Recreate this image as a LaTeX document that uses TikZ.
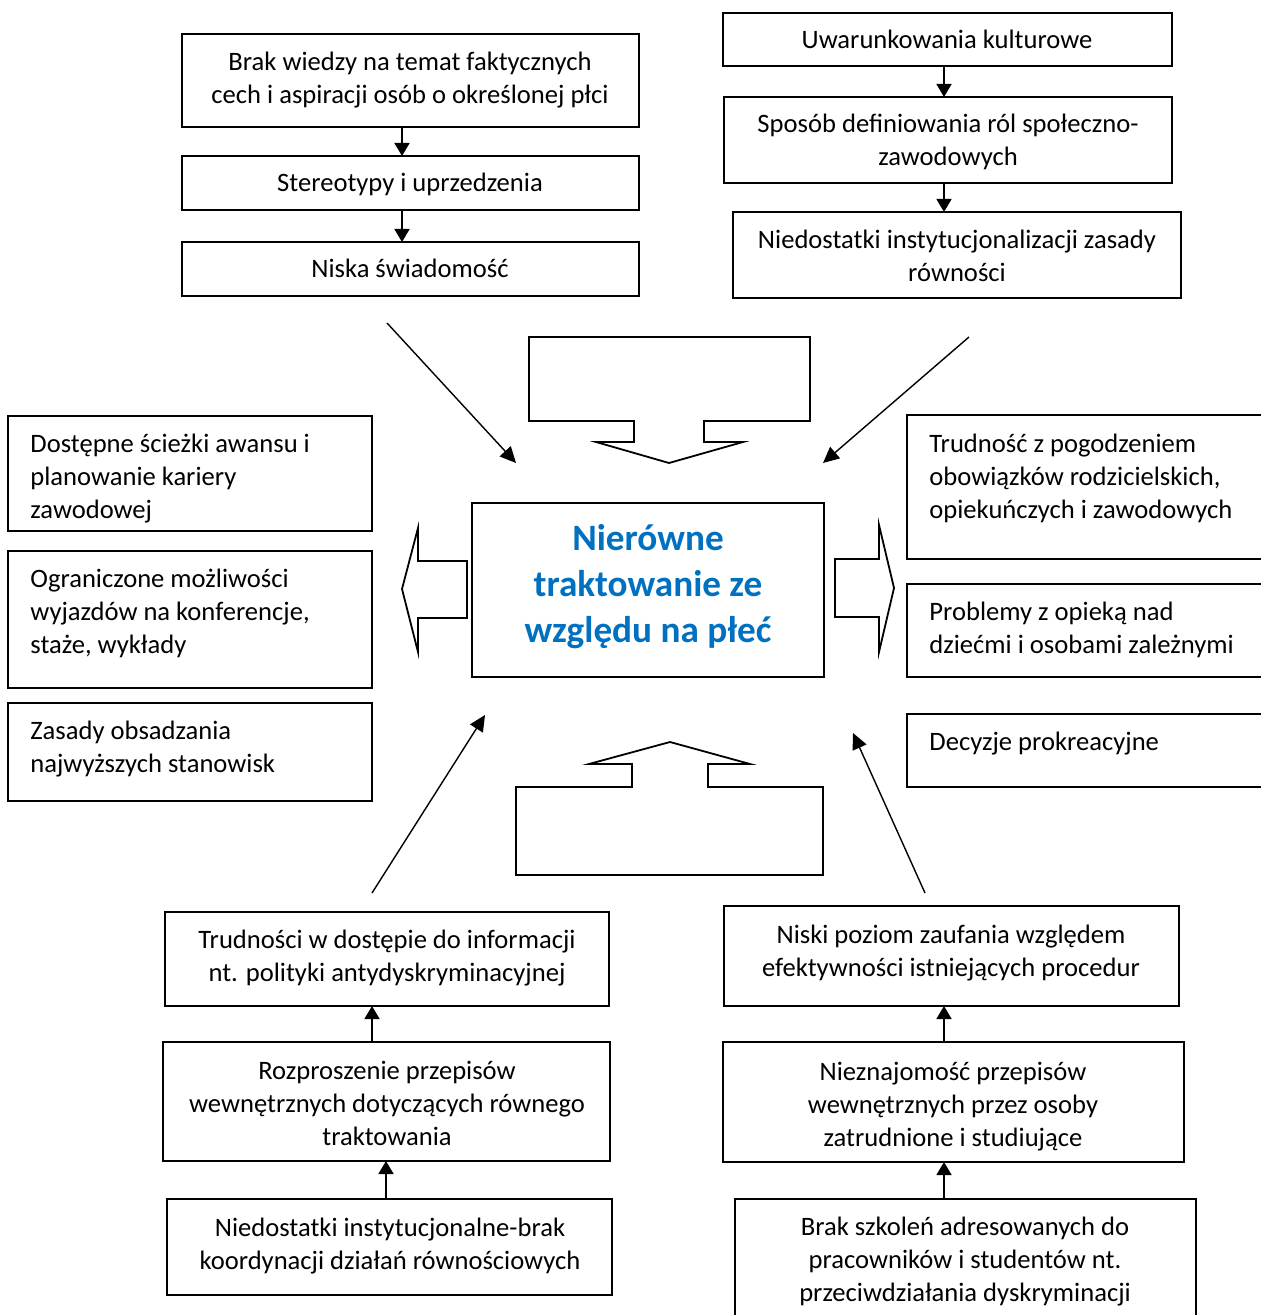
\documentclass[tikz,border=0pt]{standalone}
\usepackage{fontspec}
\setmainfont{Carlito}
\usetikzlibrary{arrows.meta,fit}
\definecolor{wordblue}{RGB}{0,112,192}
\newcommand\mystrut{\rule{0pt}{12.5pt}}
\newcommand\mybstrut{\rule{0pt}{18pt}}
\begin{document}
\begin{tikzpicture}[x=0.5pt,y=-0.5pt,
  box/.style={draw, line width=0.9pt, inner sep=0pt, outer sep=0pt},
  txt/.style={inner sep=0pt, font=\fontsize{13.3}{16.4}\selectfont, align=center, anchor=north},
  ltxt/.style={txt, align=left, anchor=north west},
  ctxt/.style={inner sep=0pt, font=\fontsize{18.6}{23}\selectfont\bfseries, text=wordblue, align=center, anchor=north},
  arr/.style={line width=0.8pt, -{Triangle[length=6.5pt,width=7.5pt]}},
  darr/.style={line width=0.7pt, -{Triangle[length=8pt,width=7.5pt]}},
  blk/.style={draw, line width=0.9pt, line join=miter, fill=white}]
\useasboundingbox[fill=white] (0,0) rectangle (1260,1315);

% boxes
\node[box, fit={(182,34) (639,127)}] (a1) {};
\node[box, fit={(182,156) (639,210)}] (a2) {};
\node[box, fit={(182,242) (639,296)}] (a3) {};
\node[box, fit={(723,13) (1172,66)}] (b1) {};
\node[box, fit={(724,97) (1172,183)}] (b2) {};
\node[box, fit={(733,212) (1181,298)}] (b3) {};
\node[box, fit={(472,503) (824,677)}] (c) {};
\node[box, fit={(8,416) (372,531)}] (l1) {};
\node[box, fit={(8,551) (372,688)}] (l2) {};
\node[box, fit={(8,703) (372,801)}] (l3) {};
\node[box, fit={(907,415) (1275,559)}] (r1) {};
\node[box, fit={(907,584) (1275,677)}] (r2) {};
\node[box, fit={(907,714) (1275,787)}] (r3) {};
\node[box, fit={(165,912) (609,1006)}] (d1) {};
\node[box, fit={(163,1042) (610,1161)}] (d2) {};
\node[box, fit={(167,1199) (612,1295)}] (d3) {};
\node[box, fit={(724,906) (1179,1006)}] (e1) {};
\node[box, fit={(723,1042) (1184,1162)}] (e2) {};
\node[box, fit={(735,1199) (1196,1330)}] (e3) {};

% texts
\node[txt] (a1t) at (410,45) {\mystrut Brak wiedzy na temat faktycznych\\cech i aspiracji osób o określonej płci};
\node[txt] (a2t) at (410,166) {\mystrut Stereotypy i uprzedzenia};
\node[txt] (a3t) at (410,252) {\mystrut Niska świadomość};
\node[txt] (b1t) at (947,23) {\mystrut Uwarunkowania kulturowe};
\node[txt] (b2t) at (948,107) {\mystrut Sposób definiowania ról społeczno-\\zawodowych};
\node[txt] (b3t) at (957,223) {\mystrut Niedostatki instytucjonalizacji zasady\\równości};
\node[ctxt] (ct) at (648,514) {\mybstrut Nierówne\\traktowanie ze\\względu na płeć};
\node[ltxt] (l1t) at (30,427) {\mystrut Dostępne ścieżki awansu i\\planowanie kariery\\zawodowej};
\node[ltxt] (l2t) at (30,562) {\mystrut Ograniczone możliwości\\wyjazdów na konferencje,\\staże, wykłady};
\node[ltxt] (l3t) at (30,714) {\mystrut Zasady obsadzania\\najwyższych stanowisk};
\node[ltxt] (r1t) at (929,427) {\mystrut Trudność z pogodzeniem\\obowiązków rodzicielskich,\\opiekuńczych i zawodowych};
\node[ltxt] (r2t) at (929,595) {\mystrut Problemy z opieką nad\\dziećmi i osobami zależnymi};
\node[ltxt] (r3t) at (929,725) {\mystrut Decyzje prokreacyjne};
\node[txt] (d1t) at (387,923) {\mystrut Trudności w dostępie do informacji\\nt. polityki antydyskryminacyjnej};
\node[txt] (d2t) at (387,1054) {\mystrut Rozproszenie przepisów\\wewnętrznych dotyczących równego\\traktowania};
\node[txt] (d3t) at (390,1211) {\mystrut Niedostatki instytucjonalne-brak\\koordynacji działań równościowych};
\node[txt] (e1t) at (951,918) {\mystrut Niski poziom zaufania względem\\efektywności istniejących procedur};
\node[txt] (e2t) at (953,1055) {\mystrut Nieznajomość przepisów\\wewnętrznych przez osoby\\zatrudnione i studiujące};
\node[txt] (e3t) at (965,1210) {\mystrut Brak szkoleń adresowanych do\\pracowników i studentów nt.\\przeciwdziałania dyskryminacji};

% vertical connectors
\coordinate (xA) at (402,0);
\coordinate (xB) at (944,0);
\coordinate (xD1) at (372,0);
\coordinate (xD2) at (386,0);
\draw[arr] (a1.south -| xA) -- (a2.north -| xA);
\draw[arr] (a2.south -| xA) -- (a3.north -| xA);
\draw[arr] (b1.south -| xB) -- (b2.north -| xB);
\draw[arr] (b2.south -| xB) -- (b3.north -| xB);
\draw[arr] (d2.north -| xD1) -- (d1.south -| xD1);
\draw[arr] (d3.north -| xD2) -- (d2.south -| xD2);
\draw[arr] (e2.north -| xB) -- (e1.south -| xB);
\draw[arr] (e3.north -| xB) -- (e2.south -| xB);

% diagonal arrows
\coordinate (p1s) at (387,323); \coordinate (p1e) at (516,463);
\coordinate (p2s) at (969,337); \coordinate (p2e) at (823,463);
\coordinate (p3s) at (372,893); \coordinate (p3e) at (485,715);
\coordinate (p4s) at (925,893); \coordinate (p4e) at (853,733);
\draw[darr] (p1s) -- (p1e);
\draw[darr] (p2s) -- (p2e);
\draw[darr] (p3s) -- (p3e);
\draw[darr] (p4s) -- (p4e);

% block arrows
\draw[blk] (529,337) -- (810,337) -- (810,421) -- (704,421) -- (704,442) -- (743,442) -- (669,463) -- (596,442) -- (634,442) -- (634,421) -- (529,421) -- cycle;
\draw[blk] (516,875) -- (823,875) -- (823,787) -- (708,787) -- (708,764) -- (750,764) -- (670,742) -- (589,764) -- (632,764) -- (632,787) -- (516,787) -- cycle;
\draw[blk] (467,561) -- (467,618) -- (418,618) -- (418,652) -- (402,589) -- (418,528) -- (418,561) -- cycle;
\draw[blk] (835,559) -- (879,559) -- (879,525) -- (894,588) -- (879,652) -- (879,617) -- (835,617) -- cycle;
\end{tikzpicture}
\end{document}
